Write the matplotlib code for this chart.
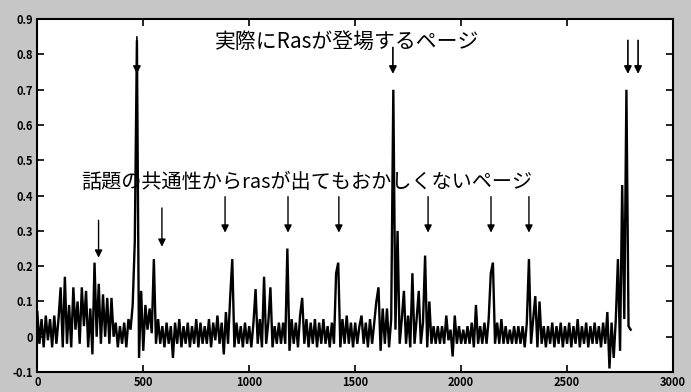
import matplotlib
matplotlib.use("Agg")
import matplotlib.pyplot as plt
import numpy as np

plt.rcParams['font.family'] = ['Noto Sans CJK JP', 'DejaVu Sans']

x_step = 10
y_values = [
    0.07, -0.02, 0.05, -0.03, 0.06, -0.01, 0.05, -0.03, 0.06, -0.02,    # 0-90
    0.05, 0.14, -0.03, 0.17, -0.02, 0.09, -0.03, 0.14, 0.02, 0.10,      # 100-190
    -0.02, 0.14, 0.03, 0.13, -0.03, 0.08, -0.05, 0.21, 0.00, 0.15,      # 200-290
    -0.02, 0.12, 0.00, 0.11, -0.02, 0.11, 0.00, 0.04, -0.03, 0.03,      # 300-390
    -0.02, 0.04, -0.03, 0.05, 0.02, 0.09, 0.27, 0.84, -0.06, 0.13,      # 400-490
    -0.04, 0.09, 0.02, 0.08, 0.01, 0.22, -0.02, 0.05, -0.02, 0.03,      # 500-590
    -0.03, 0.04, -0.02, 0.03, -0.06, 0.04, -0.02, 0.05, -0.03, 0.03,    # 600-690
    -0.02, 0.04, -0.03, 0.03, -0.02, 0.05, -0.03, 0.04, -0.02, 0.03,    # 700-790
    -0.02, 0.05, -0.03, 0.04, -0.01, 0.06, -0.02, 0.04, -0.05, 0.07,    # 800-890
    -0.02, 0.11, 0.22, -0.03, 0.04, -0.02, 0.03, -0.03, 0.04, -0.02,    # 900-990
    0.03, -0.03, 0.04, 0.135, -0.02, 0.05, -0.03, 0.17, -0.02, 0.04,    # 1000-1090
    0.14, -0.03, 0.03, -0.02, 0.04, -0.02, 0.04, -0.02, 0.25, -0.04,    # 1100-1190
    0.05, -0.02, 0.04, -0.03, 0.06, 0.11, -0.02, 0.05, -0.03, 0.04,     # 1200-1290
    -0.02, 0.05, -0.03, 0.04, -0.02, 0.05, -0.02, 0.03, -0.03, 0.04,    # 1300-1390
    -0.02, 0.18, 0.21, -0.03, 0.05, -0.02, 0.06, -0.02, 0.04, -0.03,    # 1400-1490
    0.04, -0.02, 0.03, 0.06, -0.02, 0.04, -0.03, 0.05, -0.02, 0.04,     # 1500-1590
    0.10, 0.14, -0.04, 0.08, -0.02, 0.08, -0.03, 0.05, 0.70, 0.02,      # 1600-1690
    0.30, -0.02, 0.05, 0.13, -0.02, 0.06, -0.03, 0.18, -0.02, 0.05,     # 1700-1790
    0.13, -0.02, 0.04, 0.23, -0.03, 0.10, -0.02, 0.03, -0.02, 0.03,     # 1800-1890
    -0.02, 0.03, -0.02, 0.06, -0.01, 0.02, -0.056, 0.06, -0.02, 0.03,   # 1900-1990
    -0.02, 0.02, -0.02, 0.03, -0.02, 0.04, -0.03, 0.09, -0.02, 0.03,    # 2000-2090
    -0.02, 0.04, -0.02, 0.05, 0.18, 0.21, -0.02, 0.04, -0.02, 0.05,     # 2100-2190
    -0.02, 0.03, -0.02, 0.02, -0.02, 0.03, -0.02, 0.03, -0.02, 0.03,    # 2200-2290
    -0.03, 0.04, 0.22, -0.02, 0.05, 0.115, -0.03, 0.10, -0.02, 0.03,    # 2300-2390
    -0.03, 0.03, -0.02, 0.04, -0.03, 0.03, -0.02, 0.04, -0.03, 0.03,    # 2400-2490
    -0.02, 0.04, -0.03, 0.03, -0.02, 0.05, -0.03, 0.03, -0.02, 0.04,    # 2500-2590
    -0.03, 0.03, -0.02, 0.04, -0.02, 0.03, -0.03, 0.04, -0.02, 0.07,    # 2600-2690
    -0.09, 0.04, -0.06, 0.05, 0.22, -0.04, 0.43, 0.05, 0.70, 0.03,      # 2700-2790
    0.02,                                                               # 2800
]
x_values = np.arange(len(y_values)) * x_step

# annotation arrows: (page, start value, tip value)
actual_arrow_x = [470, 1678, 2787, 2835]
actual_arrow_start = [0.85, 0.82, 0.84, 0.84]
actual_arrow_tip = [0.745, 0.745, 0.745, 0.745]

topic_arrow_x = [289, 588, 886, 1183, 1423, 1844, 2141, 2320]
topic_arrow_start = [0.33, 0.365, 0.397, 0.397, 0.397, 0.397, 0.397, 0.397]
topic_arrow_tip = [0.224, 0.255, 0.295, 0.295, 0.295, 0.295, 0.295, 0.295]

label_actual = "実際にRasが登場するページ"
label_topic = "話題の共通性からrasが出てもおかしくないページ"

x_ticks = [0, 500, 1000, 1500, 2000, 2500, 3000]
y_ticks = [-0.1, 0, 0.1, 0.2, 0.3, 0.4, 0.5, 0.6, 0.7, 0.8, 0.9]
y_tick_labels = ["-0.1", "0", "0.1", "0.2", "0.3", "0.4", "0.5", "0.6", "0.7", "0.8", "0.9"]

fig = plt.figure(figsize=(6.91, 3.92), dpi=100, facecolor="#c6c6c6")
ax = fig.add_axes([0.054, 0.051, 0.920, 0.900])
ax.set_facecolor("white")

ax.plot(x_values, y_values, color="black", lw=1.7, solid_joinstyle="miter")

for xa, ys, yt in zip(actual_arrow_x, actual_arrow_start, actual_arrow_tip):
    ax.annotate("", xy=(xa, yt), xytext=(xa, ys),
                arrowprops=dict(arrowstyle="-|>", color="black", lw=1.2,
                                mutation_scale=11, shrinkA=0, shrinkB=0))
for xa, ys, yt in zip(topic_arrow_x, topic_arrow_start, topic_arrow_tip):
    ax.annotate("", xy=(xa, yt), xytext=(xa, ys),
                arrowprops=dict(arrowstyle="-|>", color="black", lw=1.0,
                                mutation_scale=11, shrinkA=0, shrinkB=0))

ax.text(1461, 0.837, label_actual, ha="center", va="center", fontsize=15, color="black")
ax.text(1273, 0.437, label_topic, ha="center", va="center", fontsize=14.5, color="black")

ax.set_xlim(0, 3000)
ax.set_ylim(-0.1, 0.9)
ax.set_xticks(x_ticks)
ax.set_xticklabels([str(t) for t in x_ticks])
ax.set_yticks(y_ticks)
ax.set_yticklabels(y_tick_labels)
ax.tick_params(direction="in", length=5, width=1.2, top=True, right=True,
               labelsize=8, pad=3)
for lab in ax.get_xticklabels() + ax.get_yticklabels():
    lab.set_fontweight("bold")
for sp in ax.spines.values():
    sp.set_linewidth(1.5)

fig.savefig("out.png", dpi=100, facecolor=fig.get_facecolor())
